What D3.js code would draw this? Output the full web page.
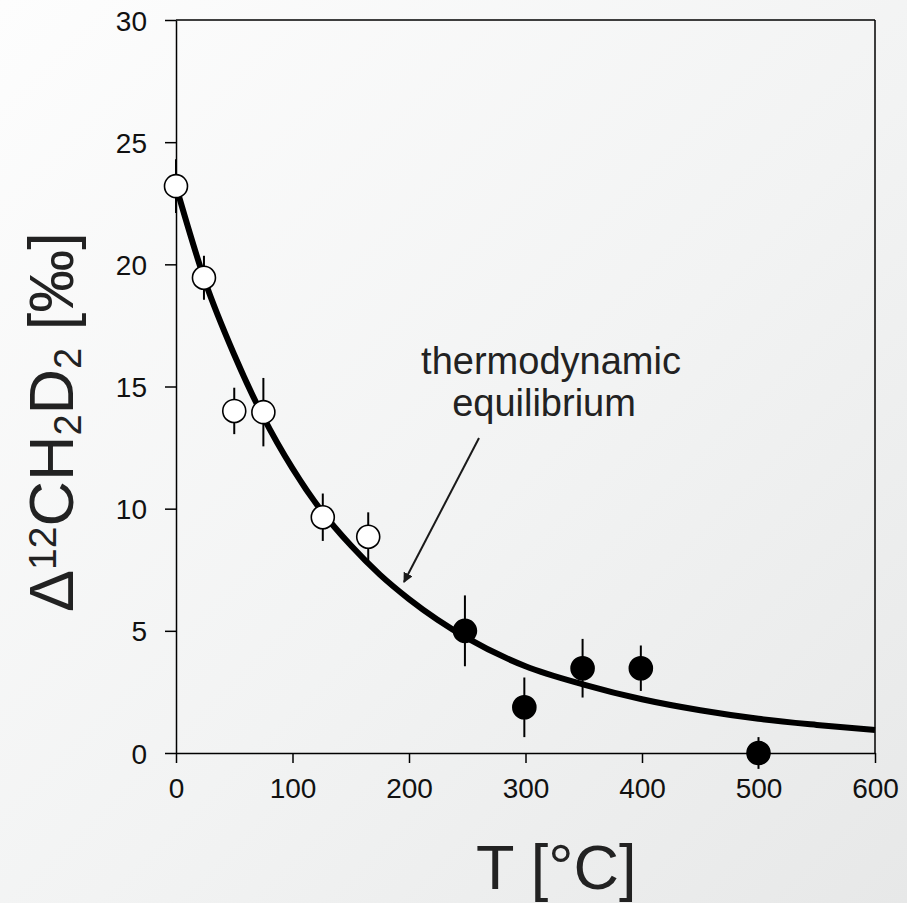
<!DOCTYPE html>
<html>
<head>
<meta charset="utf-8">
<script src="https://cdn.jsdelivr.net/npm/d3@7"></script>
<style>
  html, body { margin: 0; padding: 0; }
  body { width: 907px; height: 903px; overflow: hidden; }
  svg { display: block; }
  text { font-family: "Liberation Sans", Arial, Helvetica, sans-serif; }
</style>
</head>
<body>
<svg id="chart" width="907" height="903"></svg>
<script>
// ---- data ----
const openT   = [0, 24, 50, 75, 126, 165];
const openD   = [23.2, 19.45, 14.0, 13.95, 9.65, 8.85];
const openErr = [1.1, 0.9, 0.95, 1.4, 0.97, 1.0];

const fillT   = [248, 299, 349, 399, 500];
const fillD   = [5.0, 1.87, 3.47, 3.47, 0.0];
const fillErr = [1.45, 1.22, 1.2, 0.93, 0.65];

// thermodynamic equilibrium curve
const eqT = [0, 25, 50, 75, 100, 125, 150, 175, 200, 250, 300, 350, 400, 450, 500, 550, 600];
const eqD = [23.2, 19.3, 16.3, 13.75, 11.65, 9.9, 8.5, 7.3, 6.3, 4.7, 3.55, 2.8, 2.2, 1.75, 1.4, 1.15, 0.94];

const xTicks = [0, 100, 200, 300, 400, 500, 600];
const yTicks = [0, 5, 10, 15, 20, 25, 30];

const svg = d3.select("#chart");

// background gradient
const defs = svg.append("defs");
const grad = defs.append("linearGradient").attr("id", "bg")
  .attr("x1", "0%").attr("y1", "0%").attr("x2", "100%").attr("y2", "100%");
grad.append("stop").attr("offset", "0%").attr("stop-color", "#fdfdfd");
grad.append("stop").attr("offset", "55%").attr("stop-color", "#f2f3f3");
grad.append("stop").attr("offset", "100%").attr("stop-color", "#e7e8e8");
svg.append("rect").attr("width", 907).attr("height", 903).attr("fill", "url(#bg)");

const marker = defs.append("marker").attr("id", "arrow")
  .attr("viewBox", "0 0 10 10").attr("refX", 9).attr("refY", 5)
  .attr("markerWidth", 10).attr("markerHeight", 10)
  .attr("markerUnits", "userSpaceOnUse")
  .attr("orient", "auto");
marker.append("path").attr("d", "M0,0 L10,5 L0,10 Z").attr("fill", "#1a1a1a");

const x = d3.scaleLinear().domain([0, 600]).range([176, 875]);
const y = d3.scaleLinear().domain([0, 30]).range([753, 20]);

const tickFont = 28;

// frame (top & right)
svg.append("line").attr("x1", x(0)).attr("x2", x(600)).attr("y1", y(30)).attr("y2", y(30))
  .attr("stroke", "#000").attr("stroke-width", 1.5);
svg.append("line").attr("x1", x(600)).attr("x2", x(600)).attr("y1", y(30)).attr("y2", y(0))
  .attr("stroke", "#000").attr("stroke-width", 1.5);

// axes
const xAxis = d3.axisBottom(x).tickValues(xTicks).tickSize(10).tickPadding(15).tickSizeOuter(0);
const yAxis = d3.axisLeft(y).tickValues(yTicks).tickSize(11).tickPadding(18).tickSizeOuter(0);

const gx = svg.append("g").attr("transform", `translate(0,${y(0)})`).call(xAxis);
const gy = svg.append("g").attr("transform", `translate(${x(0)},0)`).call(yAxis);
[gx, gy].forEach(g => {
  g.select(".domain").attr("stroke", "#000").attr("stroke-width", 1.5);
  g.selectAll(".tick line").attr("stroke", "#000").attr("stroke-width", 1.5);
  g.selectAll(".tick text").attr("font-size", tickFont).attr("fill", "#111")
    .attr("font-family", "Liberation Sans, Arial, sans-serif");
});
gx.selectAll(".tick text").attr("dy", "0.71em");
gy.selectAll(".tick text").attr("dy", "0.36em");

// error bars
const pts = openT.map((t, i) => ({t, d: openD[i], e: openErr[i], open: true}))
  .concat(fillT.map((t, i) => ({t, d: fillD[i], e: fillErr[i], open: false})));

svg.append("g").selectAll("line").data(pts).join("line")
  .attr("x1", p => x(p.t)).attr("x2", p => x(p.t))
  .attr("y1", p => y(p.d + p.e)).attr("y2", p => y(p.d - p.e))
  .attr("stroke", "#000").attr("stroke-width", 2);

// equilibrium curve
const line = d3.line().x((t, i) => x(t)).y((t, i) => y(eqD[i])).curve(d3.curveMonotoneX);
svg.append("path").datum(eqT).attr("d", line)
  .attr("fill", "none").attr("stroke", "#000").attr("stroke-width", 6);

// points
svg.append("g").selectAll("circle").data(pts).join("circle")
  .attr("cx", p => x(p.t)).attr("cy", p => y(p.d)).attr("r", 11.5)
  .attr("fill", p => p.open ? "#fff" : "#000")
  .attr("stroke", "#000").attr("stroke-width", 1.6);

// annotation
const ann = svg.append("text").attr("font-size", 38).attr("fill", "#222").attr("text-anchor", "middle");
ann.append("tspan").attr("x", 551).attr("y", 374).text("thermodynamic");
ann.append("tspan").attr("x", 544).attr("y", 416).text("equilibrium");
svg.append("line").attr("x1", 479).attr("y1", 438).attr("x2", 404).attr("y2", 582)
  .attr("stroke", "#1a1a1a").attr("stroke-width", 2).attr("marker-end", "url(#arrow)");

// axis titles
svg.append("text").attr("x", 476).attr("y", 889).attr("font-size", 63).attr("fill", "#222")
  .text("T [°C]");

const yt = svg.append("text").attr("transform", "translate(73,612) rotate(-90)")
  .attr("font-size", 63).attr("fill", "#222");
yt.append("tspan").text("Δ");
yt.append("tspan").attr("font-size", 39).attr("dy", -17).text("12");
yt.append("tspan").attr("dy", 17).text("CH");
yt.append("tspan").attr("font-size", 38).attr("dy", 8).text("2");
yt.append("tspan").attr("dy", -8).text("D");
yt.append("tspan").attr("font-size", 38).attr("dy", 8).text("2");
yt.append("tspan").attr("dy", -8).text(" [‰]");
</script>
</body>
</html>
